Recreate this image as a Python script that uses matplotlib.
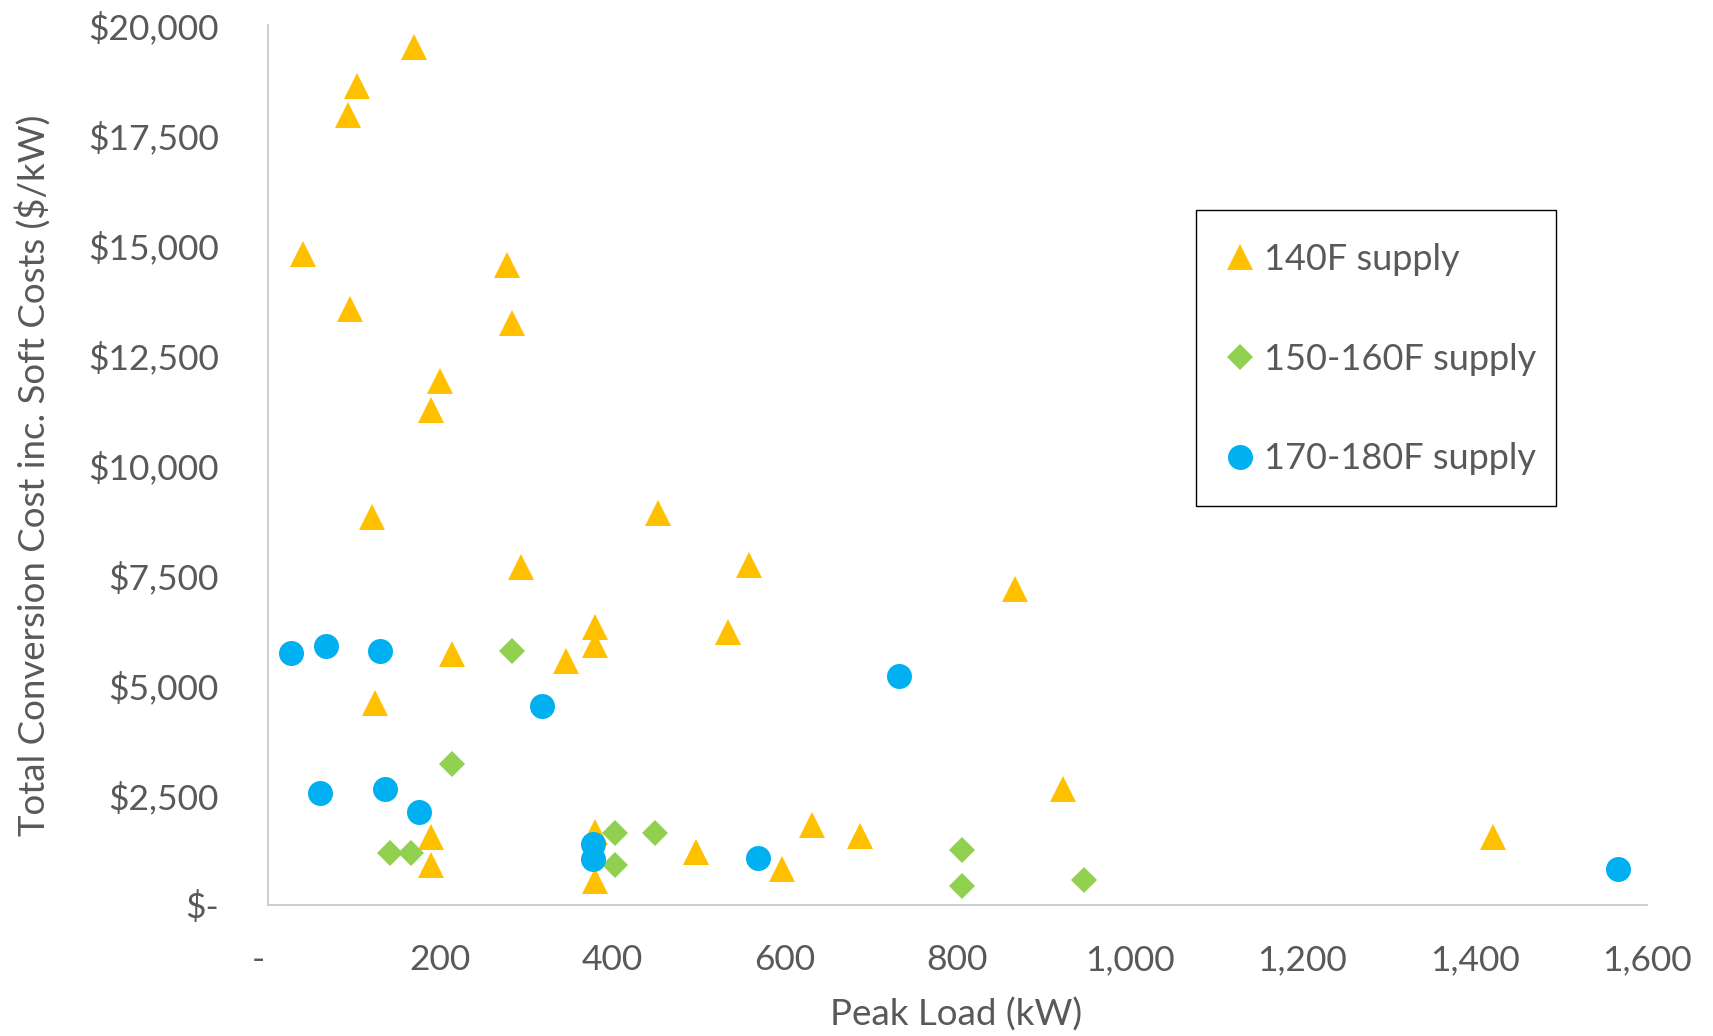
from __future__ import annotations

import matplotlib
matplotlib.use("Agg")
import matplotlib.pyplot as plt
from matplotlib.patches import Rectangle
from matplotlib.ticker import FuncFormatter, MultipleLocator


# 140F supply buildings: peak load (kW), conversion cost ($/kW)
load_140 = [169.6, 103.8, 93.7, 40.8, 278.1, 95.3, 284.0, 199.7, 189.6, 121.2,
            452.6, 294.0, 558.5, 867.3, 379.8, 534.0, 379.8, 214.0, 346.6, 125.0,
            923.0, 631.5, 687.2, 189.6, 1421.7, 379.8, 497.0, 189.6, 597.0, 379.8]
cost_140 = [19504, 18631, 17965, 14804, 14554, 13546, 13242, 11923, 11249, 8816,
            8907, 7679, 7725, 7193, 6329, 6215, 5912, 5715, 5549, 4600,
            2631, 1826, 1576, 1546, 1546, 1653, 1212, 903, 819, 539]

# 150-160F supply
load_150 = [284.0, 214.0, 142.0, 166.8, 402.7, 449.8, 402.7, 805.9, 805.9, 947.0]
cost_150 = [5776, 3206, 1189, 1189, 1637, 1637, 910, 1244, 432, 575]

# 170-180F supply
load_170 = [26.9, 68.2, 130.8, 318.4, 732.8, 60.9, 136.6, 175.4, 377.9, 377.9,
            568.5, 1566.4]
cost_170 = [5724, 5890, 5776, 4518, 5215, 2540, 2645, 2115, 1394, 1039,
            1076, 826]

series_labels = ["140F supply", "150-160F supply", "170-180F supply"]

TEXT = "#595959"
AXIS = "#C9C9C9"


def _dollars(v, _pos):
	return "$-" if abs(v) < 1e-9 else f"${v:,.0f}"


def _kw(v, _pos):
	# accounting style zero, padded like the spreadsheet format
	return "-  " if abs(v) < 1e-9 else f"{v:,.0f}"


def main() -> None:
	plt.rcParams["font.family"] = ["Lato", "DejaVu Sans"]

	fig = plt.figure(figsize=(17.13, 10.36), dpi=100)
	ax = fig.add_axes([0.15616, 0.12645, 0.80531, 0.84894])

	# ── series (drawn in sheet order so circles sit on top) ──
	ax.plot(load_140, cost_140, ls="none", marker="^", ms=19.4, mew=0,
			color="#FFC000", label=series_labels[0], clip_on=False)
	ax.plot(load_150, cost_150, ls="none", marker="D", ms=13.6, mew=0,
			color="#92D050", label=series_labels[1], clip_on=False)
	ax.plot(load_170, cost_170, ls="none", marker="o", ms=18, mew=0,
			color="#00B0F0", label=series_labels[2], clip_on=False)

	# ── axes ──
	ax.set_xlim(0, 1600)
	ax.set_ylim(0, 20000)
	ax.xaxis.set_major_locator(MultipleLocator(200))
	ax.yaxis.set_major_locator(MultipleLocator(2500))
	ax.xaxis.set_major_formatter(FuncFormatter(_kw))
	ax.yaxis.set_major_formatter(FuncFormatter(_dollars))
	ax.tick_params(axis="both", length=0, labelsize=25.5, labelcolor=TEXT)
	ax.tick_params(axis="y", pad=35)
	ax.tick_params(axis="x", pad=28)

	for side in ("top", "right"):
		ax.spines[side].set_visible(False)
	for side in ("left", "bottom"):
		ax.spines[side].set_color(AXIS)
		ax.spines[side].set_linewidth(1.3)

	ax.set_xlabel("Peak Load (kW)", fontsize=26.5, color=TEXT)
	ax.set_ylabel("Total Conversion Cost inc. Soft Costs ($/kW)", fontsize=26.4, color=TEXT)
	ax.xaxis.set_label_coords(0.499, -0.125)
	ax.xaxis.label.set_va("center")
	ax.yaxis.set_label_coords(-0.170, 0.489)
	ax.yaxis.label.set_va("center")

	# ── legend: entries without frame, box drawn separately (tighter on the right) ──
	leg = ax.legend(loc="upper left", bbox_to_anchor=(0.6982, 0.7973),
					bbox_transform=fig.transFigure, fontsize=26,
					frameon=False, borderaxespad=0,
					borderpad=0.91, labelspacing=1.85,
					handlelength=0.63, handletextpad=0.34)
	for t in leg.get_texts():
		t.set_color(TEXT)
	fig.patches.append(Rectangle((1195.5 / 1713, 1 - 506 / 1036), 360 / 1713, 296 / 1036,
								 transform=fig.transFigure, fill=False,
								 edgecolor="black", linewidth=1.0))

	fig.savefig("out.png", dpi=100, facecolor="white")


if __name__ == "__main__":
	main()
